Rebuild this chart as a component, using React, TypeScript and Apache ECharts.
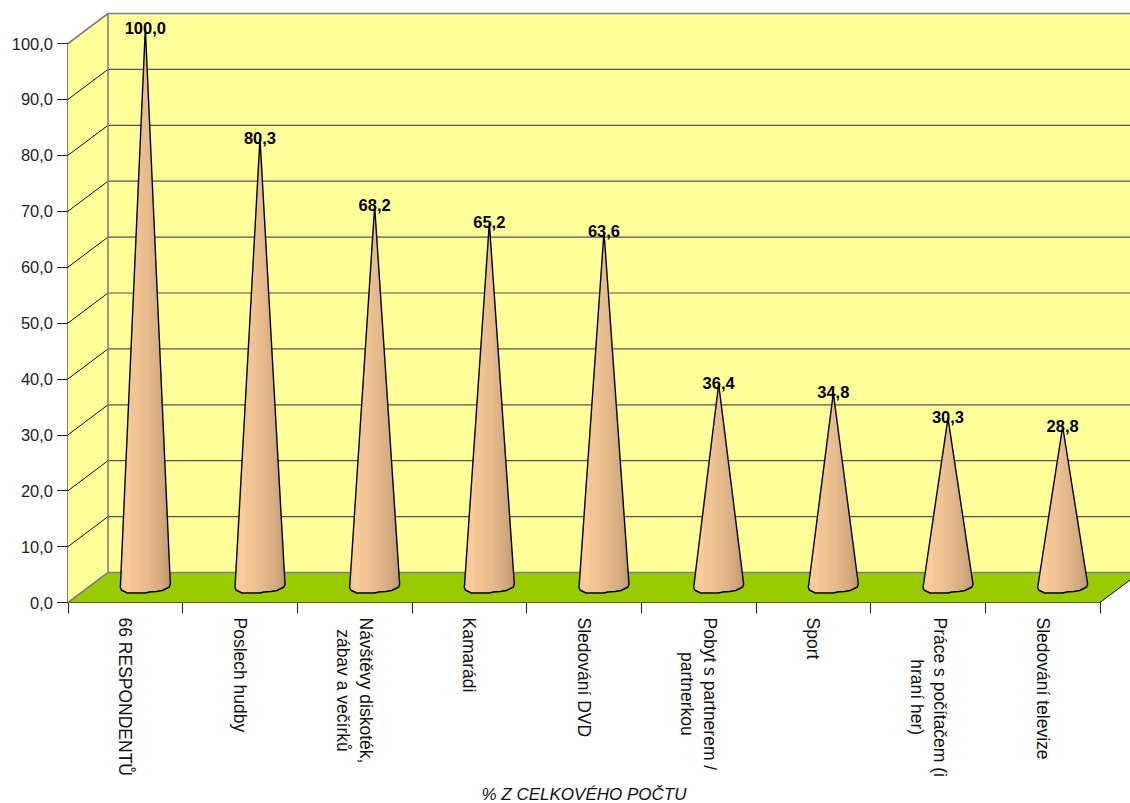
import React, { useEffect, useRef } from "react";
import * as echarts from "echarts";

const categories = [
  "66 RESPONDENTŮ",
  "Poslech hudby",
  "Návštěvy diskoték,\nzábav a večírků",
  "Kamarádi",
  "Sledování DVD",
  "Pobyt s partnerem /\npartnerkou",
  "Sport",
  "Práce s počítačem (i\nhraní her)",
  "Sledování televize",
];
const values = [100.0, 80.3, 68.2, 65.2, 63.6, 36.4, 34.8, 30.3, 28.8];
const axisTitle = "% Z CELKOVÉHO POČTU";
const yTicks = [0, 10, 20, 30, 40, 50, 60, 70, 80, 90, 100];

const depthX = 40;
const depthY = -30;
const coneOffsetX = 20;
const coneOffsetY = -15;
const GRID = { left: 68, right: 30, top: 43.5, bottom: 200.5, outerBoundsMode: "none", containLabel: false };
const WIDTH = 1130;
const HEIGHT = 803;
const FONT = "'Liberation Sans', Arial, sans-serif";

const coneFill = {
  type: "linear", x: 0, y: 0, x2: 1, y2: 0,
  colorStops: [
    { offset: 0, color: "#f0c496" },
    { offset: 0.1, color: "#fdcb98" },
    { offset: 0.2, color: "#f8c998" },
    { offset: 0.24, color: "#efc496" },
    { offset: 0.3, color: "#f4c594" },
    { offset: 0.42, color: "#eec090" },
    { offset: 0.46, color: "#e6bf8e" },
    { offset: 0.55, color: "#e8ba8c" },
    { offset: 0.68, color: "#deb286" },
    { offset: 0.72, color: "#d8b284" },
    { offset: 0.8, color: "#d6ab80" },
    { offset: 0.92, color: "#c9a077" },
    { offset: 1, color: "#bd9670" },
  ],
};

const baseOutline = [
  [-25, -4], [-24, -1.5], [-18, 1.5], [0, 1.5], [4, 0.5], [11, 0], [17, -1], [24, -4.5], [25, -7.5],
];

const renderRoom = (params: any, api: any) => {
  const cs = params.coordSys;
  const x0 = cs.x;
  const x1 = cs.x + cs.width;
  const y0 = api.coord([0, 0])[1];
  const yTop = api.coord([0, 100])[1];
  const bx = x0 + depthX;
  const by = y0 + depthY;
  const btop = yTop + depthY;
  const children: any[] = [
    { type: "rect", shape: { x: bx, y: btop, width: WIDTH - bx + 2, height: by - btop }, style: { fill: "#ffff99" } },
    { type: "polygon", shape: { points: [[x0, y0], [bx, by], [bx, btop], [x0, yTop]] }, style: { fill: "#ffff99" } },
    { type: "polygon", shape: { points: [[x0, y0], [bx, by], [x1 + depthX, by], [x1, y0]] }, style: { fill: "#99cc00" } },
  ];
  yTicks.forEach((t) => {
    const y = api.coord([0, t])[1];
    if (t > 0 && t < 100) {
      children.push({ type: "line", shape: { x1: x0, y1: y, x2: bx, y2: y + depthY }, style: { stroke: "#111", lineWidth: 1 } });
      children.push({ type: "line", shape: { x1: bx, y1: y + depthY, x2: WIDTH, y2: y + depthY }, style: { stroke: "#555", lineWidth: 1.2 } });
    }
  });
  const gray = { stroke: "#808080", lineWidth: 1.6 };
  children.push(
    { type: "line", shape: { x1: bx, y1: btop, x2: WIDTH, y2: btop }, style: gray },
    { type: "line", shape: { x1: bx, y1: btop, x2: bx, y2: by }, style: gray },
    { type: "line", shape: { x1: bx, y1: by, x2: WIDTH, y2: by }, style: gray },
    { type: "line", shape: { x1: x0, y1: yTop, x2: bx, y2: btop }, style: gray },
    { type: "line", shape: { x1: x0, y1: y0, x2: bx, y2: by }, style: gray },
    { type: "line", shape: { x1: x1, y1: y0, x2: x1 + depthX, y2: by }, style: { stroke: "#000", lineWidth: 1 } }
  );
  return { type: "group", children };
};

const renderCone = (params: any, api: any) => {
  const v = api.value(1);
  const [cx, tipRaw] = api.coord([api.value(0), v]);
  const baseY = api.coord([api.value(0), 0])[1] + coneOffsetY + 4;
  const x = cx + coneOffsetX;
  const tipY = tipRaw + coneOffsetY;
  const points = [[x, tipY], ...baseOutline.slice().reverse().map(([dx, dy]) => [x + dx, baseY + dy])];
  return {
    type: "group",
    children: [
      { type: "polygon", shape: { points }, style: { fill: coneFill, stroke: "#000", lineWidth: 1.4, lineJoin: "round" } },
      {
        type: "text",
        style: {
          x, y: tipY - 1,
          text: v.toFixed(1).replace(".", ","),
          fill: "#000",
          font: `bold 16.5px ${FONT}`,
          align: "center",
          verticalAlign: "middle",
        },
      },
    ],
  };
};

export default function App() {
  const ref = useRef<HTMLDivElement>(null);
  useEffect(() => {
    const chart = echarts.init(ref.current!, undefined, { renderer: "svg" });
    chart.setOption({
      animation: false,
      backgroundColor: "#ffffff",
      textStyle: { fontFamily: FONT },
      grid: GRID,
      xAxis: {
        type: "category",
        data: categories,
        boundaryGap: true,
        name: axisTitle,
        nameLocation: "middle",
        nameGap: 191.5,
        nameTextStyle: { fontSize: 17, fontStyle: "italic", color: "#111", fontFamily: FONT, verticalAlign: "middle" },
        axisLine: { show: true, lineStyle: { color: "#000", width: 1 } },
        axisTick: { show: true, length: 11, alignWithLabel: false, lineStyle: { color: "#222" } },
        splitLine: { show: false },
        axisLabel: {
          interval: 0,
          rotate: -90,
          margin: 15,
          color: "#111",
          fontSize: 17.5,
          lineHeight: 23,
          formatter: (v: string) => v.split("\n").map((l) => `{c|${l}}`).join("\n"),
          rich: { c: { align: "center", fontSize: 17.5, lineHeight: 23, color: "#111", fontFamily: FONT } },
        },
      },
      yAxis: {
        type: "value",
        min: 0,
        max: 100,
        interval: 10,
        axisLine: { show: true, lineStyle: { color: "#555", width: 1.5 } },
        axisTick: { show: true, length: 11, lineStyle: { color: "#222" } },
        splitLine: { show: false },
        axisLabel: {
          margin: 15,
          color: "#222",
          fontSize: 16.5,
          formatter: (v: number) => v.toFixed(1).replace(".", ","),
        },
      },
      series: [
        {
          type: "custom",
          silent: true,
          clip: false,
          z: 1,
          data: [[0, 0]],
          renderItem: renderRoom,
          encode: { x: 0, y: 1 },
        },
        {
          type: "custom",
          clip: false,
          z: 3,
          data: values.map((v, i) => [i, v]),
          renderItem: renderCone,
          encode: { x: 0, y: 1 },
        },
      ],
    });
    return () => chart.dispose();
  }, []);
  return <div ref={ref} style={{ position: "fixed", left: 0, top: 0, width: WIDTH, height: HEIGHT }} />;
}
